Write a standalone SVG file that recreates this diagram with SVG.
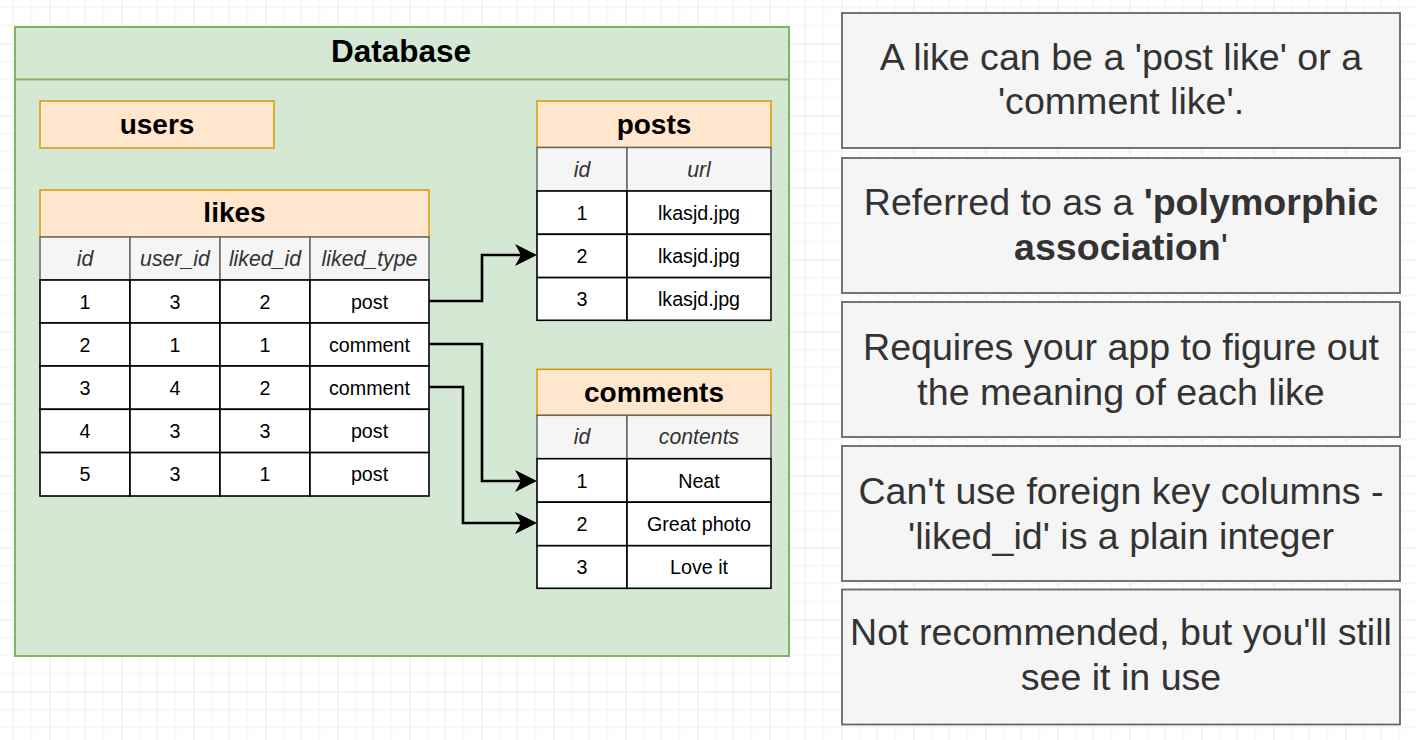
<svg xmlns="http://www.w3.org/2000/svg" width="1416" height="740" viewBox="0 0 1416 740">
<style>
text{font-family:"Liberation Sans",Arial,Helvetica,sans-serif;text-anchor:middle}
.title{font-size:28px;font-weight:bold;fill:#000}
.th{fill:#ffe6cc;stroke:#d79b00;stroke-width:1.5}
.hd{fill:#f5f5f5;stroke:#666666;stroke-width:1.5}
.hdt{font-size:21.3px;font-style:italic;fill:#333333}
.row{fill:#ffffff;stroke:#000000;stroke-width:1.6}
.rt{font-size:19.7px;fill:#000}
.note{fill:#f5f5f5;stroke:#666666;stroke-width:1.8}
.nt{font-size:37.6px;fill:#333333}
.conn{fill:none;stroke:#000;stroke-width:2.6}
</style>
<defs>
<pattern id="grid" x="49.5" y="43.5" width="72" height="72" patternUnits="userSpaceOnUse">
<path d="M18,0V72M36,0V72M54,0V72M0,18H72M0,36H72M0,54H72" stroke="#efefef" stroke-width="1" fill="none"/>
<path d="M0,0V72M0,0H72" stroke="#d3d3d3" stroke-width="1" fill="none"/>
</pattern>
<marker id="arr" viewBox="0 0 22 22" markerWidth="22" markerHeight="22" refX="6" refY="11" orient="auto" markerUnits="userSpaceOnUse">
<path d="M0,0 L22,11 L0,22 L6,11 Z" fill="#000"/>
</marker>
</defs>
<rect width="1416" height="740" fill="#ffffff"/>
<rect width="1416" height="740" fill="url(#grid)"/>

<g id="database">
<rect x="15" y="27" width="774" height="629" fill="#d5e8d4" stroke="#82b366" stroke-width="2"/>
<line x1="15" y1="79.5" x2="789" y2="79.5" stroke="#82b366" stroke-width="2"/>
<text x="401" y="62" style="font-size:31.5px;font-weight:bold">Database</text>
</g>

<g id="users">
<rect class="th" x="40" y="101" width="234" height="47"/>
<text class="title" x="157" y="134">users</text>
</g>

<g id="likes">
<rect class="th" x="40" y="190" width="389" height="47"/>
<text class="title" x="234.5" y="222">likes</text>
<rect class="hd" x="40" y="237" width="90" height="43"/>
<rect class="hd" x="130" y="237" width="90" height="43"/>
<rect class="hd" x="220" y="237" width="90" height="43"/>
<rect class="hd" x="310" y="237" width="119" height="43"/>
<text class="hdt" x="85" y="266">id</text>
<text class="hdt" x="175" y="266">user_id</text>
<text class="hdt" x="265" y="266">liked_id</text>
<text class="hdt" x="369.5" y="266">liked_type</text>
<g>
<rect class="row" x="40" y="280" width="90" height="43"/><rect class="row" x="130" y="280" width="90" height="43"/><rect class="row" x="220" y="280" width="90" height="43"/><rect class="row" x="310" y="280" width="119" height="43"/>
<rect class="row" x="40" y="323" width="90" height="43"/><rect class="row" x="130" y="323" width="90" height="43"/><rect class="row" x="220" y="323" width="90" height="43"/><rect class="row" x="310" y="323" width="119" height="43"/>
<rect class="row" x="40" y="366" width="90" height="43.3"/><rect class="row" x="130" y="366" width="90" height="43.3"/><rect class="row" x="220" y="366" width="90" height="43.3"/><rect class="row" x="310" y="366" width="119" height="43.3"/>
<rect class="row" x="40" y="409.3" width="90" height="43.3"/><rect class="row" x="130" y="409.3" width="90" height="43.3"/><rect class="row" x="220" y="409.3" width="90" height="43.3"/><rect class="row" x="310" y="409.3" width="119" height="43.3"/>
<rect class="row" x="40" y="452.6" width="90" height="43.4"/><rect class="row" x="130" y="452.6" width="90" height="43.4"/><rect class="row" x="220" y="452.6" width="90" height="43.4"/><rect class="row" x="310" y="452.6" width="119" height="43.4"/>
</g>
<text class="rt" x="85" y="308.5">1</text><text class="rt" x="175" y="308.5">3</text><text class="rt" x="265" y="308.5">2</text><text class="rt" x="369.5" y="308.5">post</text>
<text class="rt" x="85" y="351.5">2</text><text class="rt" x="175" y="351.5">1</text><text class="rt" x="265" y="351.5">1</text><text class="rt" x="369.5" y="351.5">comment</text>
<text class="rt" x="85" y="394.7">3</text><text class="rt" x="175" y="394.7">4</text><text class="rt" x="265" y="394.7">2</text><text class="rt" x="369.5" y="394.7">comment</text>
<text class="rt" x="85" y="438">4</text><text class="rt" x="175" y="438">3</text><text class="rt" x="265" y="438">3</text><text class="rt" x="369.5" y="438">post</text>
<text class="rt" x="85" y="481.3">5</text><text class="rt" x="175" y="481.3">3</text><text class="rt" x="265" y="481.3">1</text><text class="rt" x="369.5" y="481.3">post</text>
</g>

<g id="posts">
<rect class="th" x="537" y="101" width="234" height="46.5"/>
<text class="title" x="654" y="134">posts</text>
<rect class="hd" x="537" y="147.5" width="90" height="43.5"/>
<rect class="hd" x="627" y="147.5" width="144" height="43.5"/>
<text class="hdt" x="582" y="176.5">id</text>
<text class="hdt" x="699" y="176.5">url</text>
<rect class="row" x="537" y="191" width="90" height="43.3"/><rect class="row" x="627" y="191" width="144" height="43.3"/>
<rect class="row" x="537" y="234.3" width="90" height="43.3"/><rect class="row" x="627" y="234.3" width="144" height="43.3"/>
<rect class="row" x="537" y="277.6" width="90" height="42.7"/><rect class="row" x="627" y="277.6" width="144" height="42.7"/>
<text class="rt" x="582" y="219.7">1</text><text class="rt" x="699" y="219.7">lkasjd.jpg</text>
<text class="rt" x="582" y="263">2</text><text class="rt" x="699" y="263">lkasjd.jpg</text>
<text class="rt" x="582" y="306">3</text><text class="rt" x="699" y="306">lkasjd.jpg</text>
</g>

<g id="comments">
<rect class="th" x="537" y="369.3" width="234" height="46"/>
<text class="title" x="654" y="401.7">comments</text>
<rect class="hd" x="537" y="415.3" width="90" height="43.4"/>
<rect class="hd" x="627" y="415.3" width="144" height="43.4"/>
<text class="hdt" x="582" y="444.3">id</text>
<text class="hdt" x="699" y="444.3">contents</text>
<rect class="row" x="537" y="458.7" width="90" height="43.5"/><rect class="row" x="627" y="458.7" width="144" height="43.5"/>
<rect class="row" x="537" y="502.2" width="90" height="43.5"/><rect class="row" x="627" y="502.2" width="144" height="43.5"/>
<rect class="row" x="537" y="545.7" width="90" height="42.6"/><rect class="row" x="627" y="545.7" width="144" height="42.6"/>
<text class="rt" x="582" y="487.5">1</text><text class="rt" x="699" y="487.5">Neat</text>
<text class="rt" x="582" y="531">2</text><text class="rt" x="699" y="531">Great photo</text>
<text class="rt" x="582" y="574">3</text><text class="rt" x="699" y="574">Love it</text>
</g>

<g id="connectors">
<path class="conn" d="M429,301 H482 V255 H521" marker-end="url(#arr)"/>
<path class="conn" d="M429,344 H482 V481 H521" marker-end="url(#arr)"/>
<path class="conn" d="M429,387 H463 V523 H521" marker-end="url(#arr)"/>
</g>

<g id="note1">
<rect class="note" x="842" y="13" width="558" height="135"/>
<text class="nt" x="1121" y="69.5">A like can be a 'post like' or a</text>
<text class="nt" x="1121" y="114">'comment like'.</text>
</g>
<g id="note2">
<rect class="note" x="842" y="158" width="558" height="135"/>
<text class="nt" x="1121" y="215">Referred to as a <tspan font-weight="bold">'polymorphic</tspan></text>
<text class="nt" x="1121" y="260"><tspan font-weight="bold">association</tspan>'</text>
</g>
<g id="note3">
<rect class="note" x="842" y="302" width="558" height="135"/>
<text class="nt" x="1121" y="360">Requires your app to figure out</text>
<text class="nt" x="1121" y="404.5">the meaning of each like</text>
</g>
<g id="note4">
<rect class="note" x="842" y="446" width="558" height="135"/>
<text class="nt" x="1121" y="503.5">Can't use foreign key columns -</text>
<text class="nt" x="1121" y="548.5">'liked_id' is a plain integer</text>
</g>
<g id="note5">
<rect class="note" x="842" y="589.5" width="558" height="135"/>
<text class="nt" x="1121" y="645">Not recommended, but you'll still</text>
<text class="nt" x="1121" y="689.5">see it in use</text>
</g>
</svg>
